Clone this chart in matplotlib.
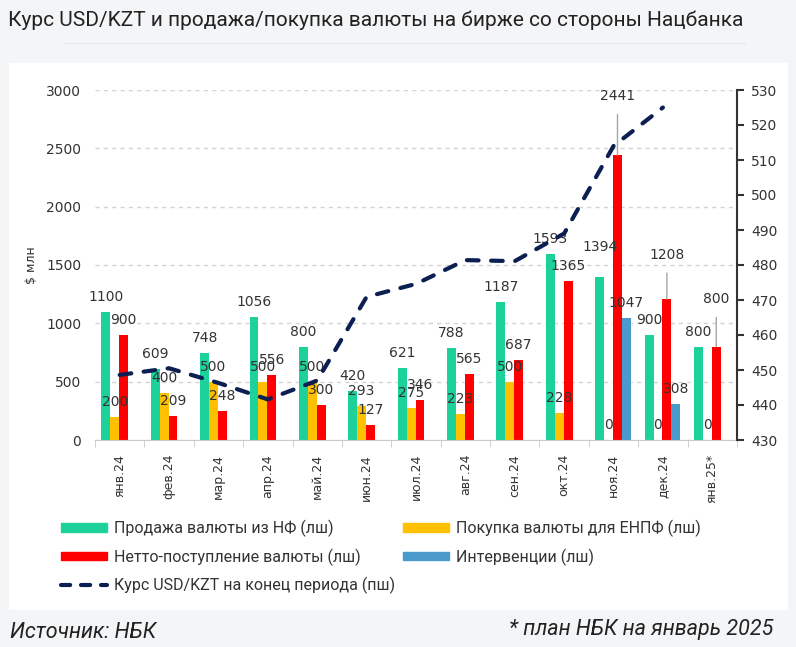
import numpy as np
import matplotlib
matplotlib.use("Agg")
import matplotlib.pyplot as plt
import matplotlib.patches as mpatches
from matplotlib.lines import Line2D

# data
months = ["янв.24", "фев.24", "мар.24", "апр.24", "май.24", "июн.24", "июл.24",
          "авг.24", "сен.24", "окт.24", "ноя.24", "дек.24", "янв.25*"]
sales_nf = [1100, 609, 748, 1056, 800, 420, 621, 788, 1187, 1593, 1394, 900, 800]
buy_enpf = [200, 400, 500, 500, 500, 293, 275, 223, 500, 228, 0, 0, 0]
net_inflow = [900, 209, 248, 556, 300, 127, 346, 565, 687, 1365, 2441, 1208, 800]
interventions = [None, None, None, None, None, None, None, None, None, None, 1047, 308, None]
usd_kzt = [448.6, 450.5, 446.3, 441.6, 447.0, 470.9, 474.6, 481.4, 481.1, 489.0, 514.0, 525.0, None]

legend_labels = ["Продажа валюты из НФ (лш)", "Покупка валюты для ЕНПФ (лш)",
                 "Нетто-поступление валюты (лш)", "Интервенции (лш)",
                 "Курс USD/KZT на конец периода (пш)"]

C_GREEN = "#1dd19b"
C_YELLOW = "#ffc000"
C_RED = "#ff0000"
C_BLUE = "#4a9acb"
C_NAVY = "#0c1f52"
TXT = "#333333"
DASH = (2.8, 3.0)

plt.rcParams["font.family"] = ["DejaVu Sans"]

fig = plt.figure(figsize=(7.96, 6.47), dpi=100)
fig.patch.set_facecolor("#f4f5f7")

W, H = 796, 647
# white panel behind the chart
fig.patches.append(mpatches.Rectangle((9 / W, 1 - 610 / H), 779 / W, (610 - 63) / H,
                                      transform=fig.transFigure, facecolor="white",
                                      edgecolor="none", zorder=-5))
fig.lines.append(Line2D([65 / W, 745 / W], [1 - 43 / H, 1 - 43 / H], transform=fig.transFigure,
                        color="#e6e7ea", lw=0.8, zorder=-5))

fig.text(8 / W, 1 - 20 / H, "Курс USD/KZT и продажа/покупка валюты на бирже со стороны Нацбанка",
         fontsize=15, family=["Roboto", "DejaVu Sans"], color="#222222", va="center", ha="left")

ax = fig.add_axes([95 / W, 1 - 440 / H, (737 - 95) / W, 350 / H])
ax.set_facecolor("none")
x = np.arange(len(months))
bw = 0.18
offs = [-0.28, -0.10, 0.08, 0.26]

series = [sales_nf, buy_enpf, net_inflow, interventions]
colors = [C_GREEN, C_YELLOW, C_RED, C_BLUE]

# label offsets in points (centre above bar top); leader lines for some
special = {(0, 10): (21.6, False), (2, 10): (42.5, True), (2, 11): (31.7, True), (2, 12): (34.0, True)}

for si, (vals, col) in enumerate(zip(series, colors)):
    for i, v in enumerate(vals):
        if v is None:
            continue
        ax.bar(x[i] + offs[si], v, width=bw, color=col, zorder=2)
        off, leader = special.get((si, i), (10.8, False))
        if leader:
            ax.annotate(str(v), xy=(x[i] + offs[si], v), xytext=(0, off), textcoords="offset points",
                        ha="center", va="center", fontsize=10, color=TXT, zorder=5,
                        arrowprops=dict(arrowstyle="-", color="#a6a6a6", lw=1,
                                        shrinkA=6, shrinkB=0))
        else:
            ax.annotate(str(v), xy=(x[i] + offs[si], v), xytext=(0, off), textcoords="offset points",
                        ha="center", va="center", fontsize=10, color=TXT, zorder=5)

ax.set_xlim(-0.5, len(months) - 0.5)
ax.set_ylim(0, 3000)
ax.set_yticks(np.arange(0, 3001, 500))
ax.yaxis.grid(True, color="#d4d4d4", linestyle=(0, (3, 3)), lw=1)
ax.set_axisbelow(True)
for s in ["left", "top", "right"]:
    ax.spines[s].set_visible(False)
ax.spines["bottom"].set_color("#c8c8c8")
ax.tick_params(axis="y", length=0, labelsize=10, labelcolor=TXT, pad=10)
ax.set_xticks(x)
ax.set_xticklabels(months, rotation=90, fontsize=9, color=TXT)
ax.tick_params(axis="x", which="major", length=0, pad=10)
ax.set_xticks(np.arange(-0.5, len(months)), minor=True)
ax.tick_params(axis="x", which="minor", length=5, color="#c8c8c8")
ax.set_ylabel("$ млн", fontsize=9, color=TXT, labelpad=6)

ax2 = ax.twinx()
ax2.set_ylim(430, 530)
ax2.set_yticks(np.arange(430, 531, 10))
for s in ["left", "top", "bottom"]:
    ax2.spines[s].set_visible(False)
ax2.spines["right"].set_color("#333333")
ax2.spines["right"].set_linewidth(1.5)
ax2.tick_params(axis="y", direction="out", length=5, width=1.5, color="#333333",
                labelsize=10, labelcolor=TXT, pad=5)
rate_x = [xi for xi, r in zip(x, usd_kzt) if r is not None]
rate_y = [r for r in usd_kzt if r is not None]
ax2.plot(rate_x, rate_y, color=C_NAVY, lw=3, dashes=DASH, dash_capstyle="round", zorder=4)

# legend
legfont = {"family": ["Roboto", "DejaVu Sans"], "size": 11.5}
h_green = mpatches.Patch(color=C_GREEN)
h_yellow = mpatches.Patch(color=C_YELLOW)
h_red = mpatches.Patch(color=C_RED)
h_blue = mpatches.Patch(color=C_BLUE)
h_line = Line2D([], [], color=C_NAVY, lw=3, dashes=(2.2, 2.6), dash_capstyle="round")
common = dict(frameon=False, prop=legfont, handlelength=2.9, handleheight=0.45,
              labelspacing=0.7, handletextpad=0.4, borderaxespad=0, borderpad=0,
              loc="upper left")
leg1 = fig.legend([h_green, h_red, h_line], [legend_labels[0], legend_labels[2], legend_labels[4]],
                  bbox_to_anchor=(61 / W, 1 - 520 / H), **common)
for t in leg1.get_texts():
    t.set_color(TXT)
leg2 = fig.legend([h_yellow, h_blue], [legend_labels[1], legend_labels[3]],
                  bbox_to_anchor=(403 / W, 1 - 520 / H), **common)
for t in leg2.get_texts():
    t.set_color(TXT)

footfont = ["Roboto", "DejaVu Sans"]
fig.text(10 / W, 1 - 633 / H, "Источник: НБК", fontsize=15.5, style="italic",
         family=footfont, color="#222222", va="center", ha="left")
fig.text(773 / W, 1 - 630 / H, "* план НБК на январь 2025", fontsize=15.5, style="italic",
         family=footfont, color="#222222", va="center", ha="right")

fig.savefig("out.png", dpi=100, facecolor=fig.get_facecolor())
